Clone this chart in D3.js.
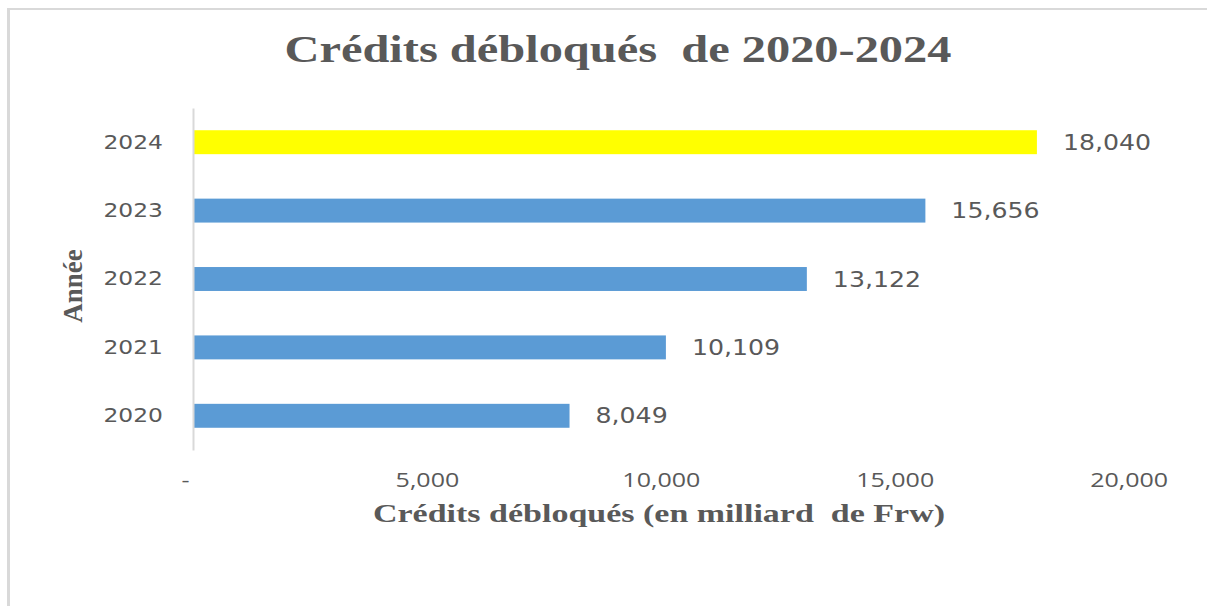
<!DOCTYPE html>
<html>
<head>
    <meta charset="utf-8">
    <style>
        body { margin: 0; background: white; }
        svg { display: block; }
        .tick text { fill: #595959; }
    </style>
</head>
<body>
    <svg width="1207" height="606"></svg>

<script src="https://d3js.org/d3.v7.min.js"></script>
<script>
    // data
    let years = ["2020", "2021", "2022", "2023", "2024"];
    let credits = [8049, 10109, 13122, 15656, 18040];
    let barColors = ["#5B9BD5", "#5B9BD5", "#5B9BD5", "#5B9BD5", "#FFFF00"];
    let xTicks = [0, 5000, 10000, 15000, 20000];

    let data = years.map((y, i) => ({ year: y, value: credits[i], color: barColors[i] }));

    let svg = d3.select("svg");
    let textColor = "#595959";

    // the original picture is stretched sideways, so widen texts a bit
    function widen(sel, factor) {
        sel.each(function () {
            let w = this.getComputedTextLength();
            d3.select(this)
                .attr("textLength", w * factor)
                .attr("lengthAdjust", "spacingAndGlyphs");
        });
    }

    // frame (top and left edges visible)
    svg.append("line")
        .attr("x1", 8).attr("x2", 1207).attr("y1", 9).attr("y2", 9)
        .style("stroke", "#d9d9d9").style("stroke-width", 2);
    svg.append("line")
        .attr("x1", 8.5).attr("x2", 8.5).attr("y1", 8).attr("y2", 606)
        .style("stroke", "#d9d9d9").style("stroke-width", 3);

    let x = d3.scaleLinear()
        .domain([0, 20000])
        .range([193, 1128.6]);

    let y = d3.scaleBand()
        .domain(years.slice().reverse())
        .range([108, 450])
        .paddingInner(0.65)
        .paddingOuter(0.325);

    // title
    svg.append("text")
        .attr("x", 618)
        .attr("y", 62)
        .attr("text-anchor", "middle")
        .attr("textLength", 667)
        .attr("lengthAdjust", "spacingAndGlyphs")
        .style("font-family", "'Liberation Serif', 'Times New Roman', serif")
        .style("font-weight", "bold")
        .style("font-size", "37px")
        .style("fill", textColor)
        .text("Crédits débloqués\u00a0 de 2020-2024");

    // bars
    svg.append("g")
        .selectAll("rect")
        .data(data)
        .join("rect")
        .attr("x", x(0))
        .attr("y", d => y(d.year))
        .attr("width", d => x(d.value) - x(0))
        .attr("height", y.bandwidth())
        .style("fill", d => d.color);

    // value labels
    let labels = svg.append("g")
        .selectAll("text")
        .data(data)
        .join("text")
        .attr("x", d => x(d.value) + 26)
        .attr("y", d => y(d.year) + y.bandwidth() / 2)
        .attr("dy", "0.36em")
        .style("font-family", "'DejaVu Sans', Verdana, sans-serif")
        .style("font-size", "21px")
        .style("fill", textColor)
        .text(d => d3.format(",")(d.value));
    widen(labels, 1.2);

    // y axis
    let yAxis = svg.append("g")
        .attr("transform", `translate(${x(0)},0)`)
        .call(d3.axisLeft(y).tickSize(0).tickPadding(30));
    yAxis.select(".domain").style("stroke", "#d9d9d9").style("stroke-width", 2);
    yAxis.selectAll(".tick text")
        .style("font-family", "'DejaVu Sans', Verdana, sans-serif")
        .style("font-size", "20px");
    widen(yAxis.selectAll(".tick text"), 1.17);

    // x axis (labels only)
    let xAxis = svg.append("g")
        .attr("transform", "translate(0,470)")
        .call(d3.axisBottom(x).tickValues(xTicks).tickSize(0)
            .tickFormat(d => d === 0 ? "-" : d3.format(",")(d)));
    xAxis.select(".domain").remove();
    xAxis.selectAll(".tick text")
        .attr("dx", (d, i) => i === 0 ? "-8px" : "0")
        .style("font-family", "'Open Sans', sans-serif")
        .style("font-size", "20px");
    widen(xAxis.selectAll(".tick text"), 1.25);

    // axis titles
    svg.append("text")
        .attr("x", 659)
        .attr("y", 522)
        .attr("text-anchor", "middle")
        .attr("textLength", 572)
        .attr("lengthAdjust", "spacingAndGlyphs")
        .style("font-family", "'Liberation Serif', 'Times New Roman', serif")
        .style("font-weight", "bold")
        .style("font-size", "26px")
        .style("fill", textColor)
        .text("Crédits débloqués (en milliard\u00a0 de Frw)");

    svg.append("text")
        .attr("transform", "translate(82,286) rotate(-90)")
        .attr("text-anchor", "middle")
        .style("font-family", "'Liberation Serif', 'Times New Roman', serif")
        .style("font-weight", "bold")
        .style("font-size", "27px")
        .style("fill", textColor)
        .text("Année");
</script>
</body>
</html>
